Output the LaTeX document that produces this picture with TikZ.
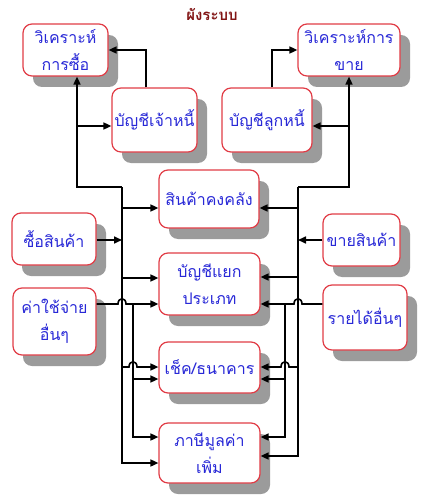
\documentclass[tikz,border=0pt]{standalone}
\usepackage{fontspec}
\newfontfamily\thai[Script=Thai]{Loma}
\usetikzlibrary{arrows.meta,shadows,calc}
\definecolor{boxred}{RGB}{225,60,70}
\definecolor{txtblue}{RGB}{40,40,215}
\definecolor{shadowgray}{RGB}{155,155,155}
\definecolor{titlered}{RGB}{130,20,20}
\begin{document}
\begin{tikzpicture}[x=1pt,y=-1pt,
 box/.style={draw=boxred, line width=1.2pt, fill=white, rounded corners=9pt, align=center,
   text=txtblue, font=\thai\fontsize{16}{27}\selectfont, inner sep=0pt,
   drop shadow={shadow xshift=10pt,shadow yshift=-11pt,fill=shadowgray,opacity=1}},
 ln/.style={line width=1.6pt, line join=miter},
 arr/.style={ln,-{Triangle[length=8pt,width=7pt]}},
]
\useasboundingbox[fill=white] (0,0) rectangle (430,500);
\node[font=\thai\bfseries\fontsize{15}{18}\selectfont, text=titlered] (title) at (212,14) {ผังระบบ};

\node[box, minimum width=85pt, minimum height=52pt] (A) at (65.5,50) {วิเคราะห์\\การซื้อ};
\node[box, minimum width=102pt, minimum height=52pt] (B) at (349,50) {วิเคราะห์การ\\ขาย};
\node[box, minimum width=85pt, minimum height=64pt] (C) at (154.5,120) {บัญชีเจ้าหนี้};
\node[box, minimum width=90pt, minimum height=64pt] (D) at (267,120) {บัญชีลูกหนี้};
\node[box, minimum width=100pt, minimum height=58pt] (E) at (209,199) {สินค้าคงคลัง};
\node[box, minimum width=84pt, minimum height=52pt] (F) at (54,239) {ซื้อสินค้า};
\node[box, minimum width=77pt, minimum height=52pt] (G) at (361.5,240) {ขายสินค้า};
\node[box, minimum width=101pt, minimum height=62pt] (H) at (209.5,284) {บัญชีแยก\\ประเภท};
\node[box, minimum width=83pt, minimum height=67pt] (I) at (54.5,321.5) {ค่าใช้จ่าย\\อื่นๆ};
\node[box, minimum width=84pt, minimum height=65pt] (J) at (365,317.5) {รายได้อื่นๆ};
\node[box, minimum width=101pt, minimum height=51pt] (K) at (209.5,367.5) {เช็ค/ธนาคาร};
\node[box, minimum width=101pt, minimum height=60pt] (L) at (209.5,453) {ภาษีมูลค่า\\เพิ่ม};

\coordinate (lb) at (77,187);
\coordinate (lc) at (122,187);
\coordinate (rb) at (349,187);
\coordinate (rc) at (298,187);

% top left
\draw[arr] (lc) -- (lb) -- (lb |- A.south);
\draw[arr] (77,126) -- (C.west |- 0,126);
\draw[arr] (146,0 |- C.north) |- (A.east);
% top right
\draw[arr] (rc) -- (rb) -- (rb |- B.south);
\draw[arr] (349,126) -- (D.east |- 0,126);
\draw[arr] (272,0 |- D.north) |- (B.west);

% left main bus
\draw[arr] (lc) |- (L.west |- 0,463);
\draw[arr] (122,208) -- (E.west |- 0,208);
\draw[arr] (122,278) -- (H.west |- 0,278);
\draw[arr] (F.east |- 0,240) -- (122,240);
\draw[arr] (I.east |- 0,304) -- (118,304) .. controls (118,297) and (126,297) .. (126,304) -- (H.west |- 0,304);
\draw[arr] (133,304) |- (L.west |- 0,437);
\draw[arr] (133,379) -- (K.west |- 0,379);
\draw[arr] (122,367) -- (129,367) .. controls (129,360) and (137,360) .. (137,367) -- (K.west |- 0,367);

% right main bus
\draw[arr] (rc) |- (L.east |- 0,456);
\draw[arr] (298,208) -- (E.east |- 0,208);
\draw[arr] (298,277) -- (H.east |- 0,277);
\draw[arr] (G.west |- 0,240) -- (298,240);
\draw[arr] (J.west |- 0,304) -- (302,304) .. controls (302,297) and (294,297) .. (294,304) -- (H.east |- 0,304);
\draw[arr] (285,304) |- (L.east |- 0,437);
\draw[arr] (285,379) -- (K.east |- 0,379);
\draw[arr] (298,367) -- (289,367) .. controls (289,360) and (281,360) .. (281,367) -- (K.east |- 0,367);
\end{tikzpicture}
\end{document}
